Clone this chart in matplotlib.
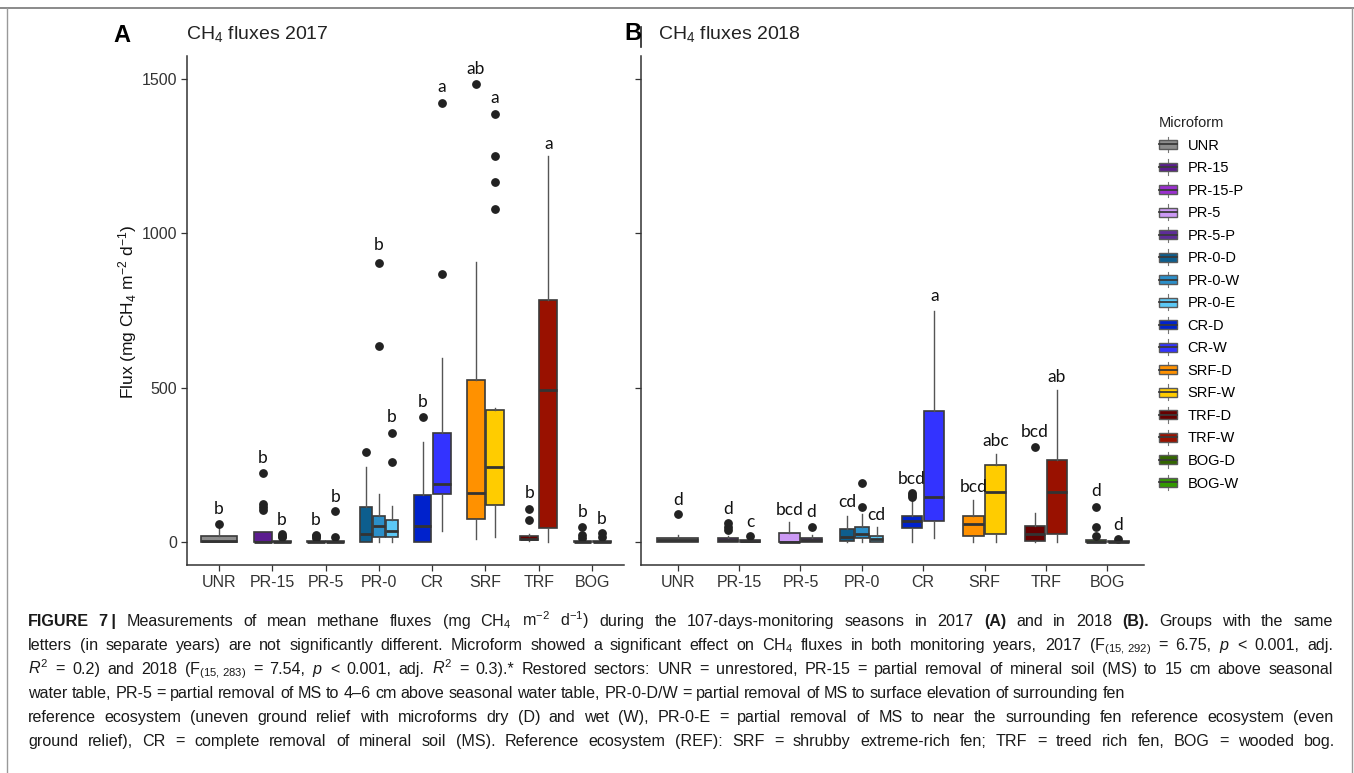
import matplotlib
matplotlib.use('Agg')
import matplotlib.pyplot as plt
from matplotlib import font_manager
from matplotlib.patches import Rectangle, Patch
from matplotlib.lines import Line2D
from matplotlib.legend_handler import HandlerBase

W, H = 1354, 773

plt.rcParams['font.family'] = ['Liberation Sans', 'DejaVu Sans']
plt.rcParams['mathtext.fontset'] = 'custom'
plt.rcParams['mathtext.rm'] = 'Liberation Sans'
plt.rcParams['mathtext.it'] = 'Liberation Sans:italic'
plt.rcParams['mathtext.bf'] = 'Liberation Sans:bold'

# ---- data ----
sites = ['UNR', 'PR-15', 'PR-5', 'PR-0', 'CR', 'SRF', 'TRF', 'BOG']
microforms = ['UNR', 'PR-15', 'PR-15-P', 'PR-5', 'PR-5-P', 'PR-0-D', 'PR-0-W', 'PR-0-E',
              'CR-D', 'CR-W', 'SRF-D', 'SRF-W', 'TRF-D', 'TRF-W', 'BOG-D', 'BOG-W']
site_of = [0, 1, 1, 2, 2, 3, 3, 3, 4, 4, 5, 5, 6, 6, 7, 7]
colors = ['#8c8c8c', '#5b1c8f', '#9b30d0', '#cc99f5', '#5e2c99', '#0d5e8e', '#2b8fc9', '#5cc8f5',
          '#0022cc', '#3333ff', '#ff9100', '#ffcc00', '#660000', '#991100', '#336600', '#339900']

# 2017 (panel A)
lo_17 = [0, 0, 0, 0, 0, 0, 0, 0, 0, 36, 10, 16, 3, 0, 0, 0]
q1_17 = [0, 0, 0, 0, 0, 0, 16, 16, 0, 155, 74, 120, 6, 45, 0, 0]
med_17 = [3, 1, 0, 0, 0, 26, 52, 36, 52, 188, 159, 243, 10, 492, 0, 0]
q3_17 = [19, 32, 3, 3, 2, 113, 84, 71, 152, 353, 524, 427, 19, 783, 3, 3]
hi_17 = [50, 32, 8, 6, 5, 243, 155, 117, 324, 595, 906, 434, 25, 1249, 6, 6]
out_17 = [[58], [104, 113, 123, 223], [15, 21, 26], [13, 18, 22], [17, 100], [291],
          [634, 905], [259, 353], [405], [868, 1423], [1485], [1078, 1166, 1249, 1386],
          [71, 107], [], [12, 22, 48], [15, 29]]
let_17 = ['b', 'b', 'b', 'b', 'b', '', 'b', 'b', 'b', 'a', 'ab', 'a', 'b', 'a', 'b', 'b']
let_y_17 = [107, 272, 71, 71, 146, 0, 961, 405, 453, 1473, 1534, 1437, 159, 1291, 97, 74]

# 2018 (panel B)
lo_18 = [0, 0, 0, 0, 0, 0, 0, 0, 0, 13, 0, 0, 0, 0, 0, 0]
q1_18 = [0, 0, 0, 0, 0, 3, 13, 0, 45, 68, 19, 26, 3, 26, 0, 0]
med_18 = [5, 6, 3, 0, 6, 16, 26, 10, 68, 146, 58, 162, 26, 162, 1, 1]
q3_18 = [13, 13, 8, 29, 13, 42, 49, 19, 84, 424, 84, 249, 52, 265, 5, 4]
hi_18 = [22, 20, 10, 65, 22, 84, 91, 49, 136, 748, 136, 285, 94, 492, 8, 6]
out_18 = [[91], [39, 49, 61], [19], [], [49], [], [113, 191], [], [146, 152, 159], [],
          [], [], [307], [], [19, 48, 113], [10]]
let_18 = ['d', 'd', 'c', 'bcd', 'd', 'cd', '', 'cd', 'bcd', 'a', 'bcd', 'abc', 'bcd', 'ab', 'd', 'd']
let_y_18 = [136, 107, 65, 104, 97, 129, 0, 87, 204, 796, 178, 327, 356, 534, 165, 55]

y_ticks = [0, 500, 1000, 1500]

caption = [
    "**FIGURE **7\u2009| Measurements of mean methane fluxes (mg CH$_4$ m$^{-2}$ d$^{-1}$) during the "
    "107-days-monitoring seasons in 2017 **(A) and in 2018 **(B). Groups with the same",
    "letters (in separate years) are not significantly different. Microform showed a significant effect "
    "on CH$_4$ fluxes in both monitoring years, 2017 (F$_{(15,\\,292)}$ = 6.75, $p$ < 0.001, adj.",
    "$R^2$ = 0.2) and 2018 (F$_{(15,\\,283)}$ = 7.54, $p$ < 0.001, adj. $R^2$ = 0.3).* Restored sectors: "
    "UNR = unrestored, PR-15 = partial removal of mineral soil (MS) to 15 cm above seasonal",
    "water table, PR-5 = partial removal of MS to 4\u20136 cm above seasonal water table, PR-0-D/W = "
    "partial removal of MS to surface elevation of surrounding fen",
    "reference ecosystem (uneven ground relief with microforms dry (D) and wet (W), PR-0-E = partial "
    "removal of MS to near the surrounding fen reference ecosystem (even",
    "ground relief), CR = complete removal of mineral soil (MS). Reference ecosystem (REF): SRF = "
    "shrubby extreme-rich fen; TRF = treed rich fen, BOG = wooded bog.",
]
cap_right = [1333, 1333, 1333, 1125, 1333, 1335]


class BoxKey(HandlerBase):
    def create_artists(self, legend, orig_handle, xdescent, ydescent, width, height, fontsize, trans):
        x0, y0 = -xdescent, -ydescent
        fc = orig_handle.get_facecolor()
        box = Rectangle((x0, y0 + height * 0.1), width, height * 0.8, facecolor=fc,
                        edgecolor='#5a5a5a', lw=1.0, transform=trans)
        med = Line2D([x0, x0 + width], [y0 + height / 2] * 2, color='#3a3a3a', lw=1.3, transform=trans)
        w1 = Line2D([x0 + width / 2] * 2, [y0 - height * 0.2, y0 + height * 0.1], color='#777777',
                    lw=0.8, transform=trans)
        w2 = Line2D([x0 + width / 2] * 2, [y0 + height * 0.9, y0 + height * 1.2], color='#777777',
                    lw=0.8, transform=trans)
        return [w1, w2, box, med]


def positions():
    n = [site_of.count(s) for s in range(len(sites))]
    seen = [0] * len(sites)
    pos, wid = [], []
    total = 0.72
    for s in site_of:
        w = total / n[s]
        pos.append(s + 1 - total / 2 + w * (seen[s] + 0.5))
        wid.append(w * 0.93)
        seen[s] += 1
    return pos, wid


def panel(ax, lo, q1, med, q3, hi, out, let, let_y, show_labels):
    stats = [dict(whislo=a, q1=b, med=c, q3=d, whishi=e, fliers=f)
             for a, b, c, d, e, f in zip(lo, q1, med, q3, hi, out)]
    pos, wid = positions()
    bp = ax.bxp(stats, positions=pos, widths=wid, patch_artist=True, showcaps=False,
                boxprops=dict(edgecolor='#3a3a3a', linewidth=1.2),
                medianprops=dict(color='#333333', linewidth=2.0),
                whiskerprops=dict(color='#555555', linewidth=1.0),
                flierprops=dict(marker='o', markerfacecolor='#222222', markeredgecolor='#222222',
                                markersize=5.3))
    for patch, c in zip(bp['boxes'], colors):
        patch.set_facecolor(c)
    for x, t, y in zip(pos, let, let_y):
        if t:
            ax.text(x, y, t, ha='center', va='center', fontsize=12.5, family=['Lato', 'DejaVu Sans'],
                    color='#111111')
    ax.set_xlim(0.4, 8.6)
    ax.set_ylim(-74.5, 1574.5)
    ax.set_xticks(range(1, len(sites) + 1))
    ax.set_xticklabels(sites)
    ax.set_yticks(y_ticks)
    if not show_labels:
        ax.set_yticklabels([])
    for side in ['top', 'right']:
        ax.spines[side].set_visible(False)
    for side in ['left', 'bottom']:
        ax.spines[side].set_color('#333333')
        ax.spines[side].set_linewidth(1.1)
    ax.tick_params(length=4, width=0.9, color='#333333', labelsize=11.5, labelcolor='#333333', pad=3)


fig = plt.figure(figsize=(W / 100, H / 100), dpi=100)

axA = fig.add_axes([187 / W, 1 - 565 / H, 437 / W, 509 / H])
axB = fig.add_axes([641 / W, 1 - 565 / H, 503 / W, 509 / H])
panel(axA, lo_17, q1_17, med_17, q3_17, hi_17, out_17, let_17, let_y_17, True)
panel(axB, lo_18, q1_18, med_18, q3_18, hi_18, out_18, let_18, let_y_18, False)

fig.text(128 / W, 1 - 312 / H, 'Flux (mg CH$_4$ m$^{-2}$ d$^{-1}$)', rotation=90, ha='center',
         va='center', fontsize=12.5, color='#111111')
fig.text(113 / W, 1 - 35 / H, 'A', fontsize=17, fontweight='bold', ha='left', va='center')
fig.text(186 / W, 1 - 34 / H, 'CH$_4$ fluxes 2017', fontsize=14, ha='left', va='center', color='#222222')
fig.text(624 / W, 1 - 34 / H, 'B', fontsize=17, fontweight='bold', ha='left', va='center')
fig.text(658 / W, 1 - 34 / H, 'CH$_4$ fluxes 2018', fontsize=14, ha='left', va='center', color='#222222')
fig.add_artist(Line2D([641 / W] * 2, [1 - 47 / H, 1 - 27 / H], color='#222222', lw=1.2))

# frame around the figure
fig.add_artist(Line2D([0, 1], [1 - 8 / H] * 2, color='#777777', lw=1.2))
fig.add_artist(Line2D([7 / W] * 2, [0, 1 - 8 / H], color='#999999', lw=1.0))
fig.add_artist(Line2D([1352 / W] * 2, [0, 1 - 8 / H], color='#999999', lw=1.0))

handles = [Patch(facecolor=c) for c in colors]
leg = fig.legend(handles, microforms, loc='upper left', bbox_to_anchor=(1159 / W, 1 - 116 / H),
                 frameon=False, title='Microform', title_fontsize=10.5, fontsize=10.5,
                 alignment='left', handler_map={Patch: BoxKey()}, handlelength=1.2,
                 handleheight=0.8, labelspacing=0.585, handletextpad=0.75, borderaxespad=0,
                 borderpad=0)
leg.get_title().set_color('#222222')

# caption, justified word by word
names = {f.name for f in font_manager.fontManager.ttflist}
cap_family = 'Liberation Sans Narrow' if 'Liberation Sans Narrow' in names else 'Liberation Sans'
renderer = fig.canvas.get_renderer()
cap_y = [626, 650, 674, 698, 722, 746]
for line, right, yb in zip(caption, cap_right, cap_y):
    words = line.split(' ')
    texts = []
    for w in words:
        bold = w.startswith('**')
        t = fig.text(0, 1 - yb / H, w[2:] if bold else w, fontsize=11.6, family=[cap_family, 'DejaVu Sans'],
                     fontweight='bold' if bold else 'normal', ha='left', va='baseline', color='#1a1a1a')
        texts.append(t)
    widths = [t.get_window_extent(renderer).width for t in texts]
    gap = (right - 28 - sum(widths)) / (len(words) - 1)
    x = 28
    for t, wdt in zip(texts, widths):
        t.set_x(x / W)
        x += wdt + gap

fig.savefig('out.png', dpi=100)
